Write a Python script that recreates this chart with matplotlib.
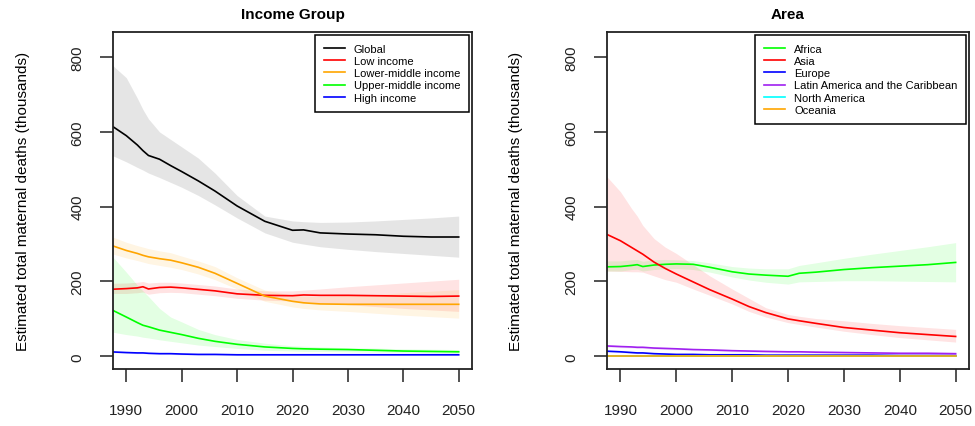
import matplotlib
matplotlib.use("Agg")
import matplotlib.pyplot as plt

plt.rcParams['font.family'] = ['Liberation Sans', 'DejaVu Sans']

# ---- Income group panel ----
years_inc = [1987, 1990, 1992, 1993, 1994, 1996, 1998, 2000, 2003, 2006,
             2010, 2015, 2020, 2022, 2025, 2030, 2035, 2040, 2045, 2050]

global_mid = [620, 590, 565, 550, 537, 527, 510, 494, 469, 442, 402, 361, 337, 338, 330, 327, 325, 321, 319, 319]
global_hi = [785, 745, 690, 660, 635, 600, 580, 560, 530, 490, 430, 375, 362, 360, 358, 359, 362, 366, 370, 375]
global_lo = [540, 520, 505, 498, 490, 478, 465, 452, 430, 405, 370, 330, 305, 300, 293, 286, 280, 275, 270, 265]

low_mid = [179, 181, 183, 186, 180, 184, 185, 183, 179, 175, 167, 163, 162, 164, 163, 163, 162, 161, 160, 161]
low_hi = [195, 196, 198, 200, 196, 198, 198, 196, 192, 188, 180, 175, 175, 177, 180, 186, 191, 196, 201, 206]
low_lo = [168, 168, 170, 172, 166, 170, 171, 170, 166, 162, 155, 150, 148, 146, 143, 138, 133, 128, 124, 120]

lmid_mid = [298, 283, 275, 270, 266, 261, 257, 250, 238, 222, 195, 161, 147, 143, 140, 139, 139, 139, 139, 139]
lmid_hi = [322, 305, 296, 292, 288, 282, 277, 268, 255, 240, 210, 177, 163, 161, 160, 163, 165, 170, 174, 178]
lmid_lo = [276, 263, 256, 252, 248, 243, 238, 232, 220, 205, 180, 147, 132, 128, 124, 120, 115, 110, 106, 102]

umid_mid = [127, 105, 90, 83, 79, 70, 64, 58, 48, 40, 32, 25, 21, 20, 19, 18, 16, 14, 13, 12]
umid_hi = [275, 225, 190, 175, 160, 128, 105, 92, 72, 58, 45, 35, 28, 27, 25, 23, 22, 20, 19, 18]
umid_lo = [66, 58, 54, 51, 49, 44, 40, 36, 30, 26, 21, 16, 14, 13, 13, 12, 11, 10, 9, 8]

high_mid = [12, 10, 9, 9, 8, 7, 7, 6, 5, 5, 4, 4, 4, 4, 4, 4, 4, 4, 4, 4]
high_hi = [14, 12, 11, 11, 10, 9, 9, 8, 7, 7, 6, 6, 6, 6, 6, 6, 6, 6, 6, 6]
high_lo = [10, 8, 7, 7, 6, 5, 5, 4, 3, 3, 2, 2, 2, 2, 2, 2, 2, 2, 2, 2]

income_names = ["Global", "Low income", "Lower-middle income", "Upper-middle income", "High income"]
income_colors = ["black", "#FF0000", "#FFA500", "#00FF00", "#0000FF"]

# ---- Area panel ----
years_area = [1987, 1990, 1992, 1993, 1994, 1996, 1998, 2000, 2003, 2006, 2010,
              2013, 2016, 2020, 2022, 2025, 2030, 2035, 2040, 2045, 2050]

africa_mid = [239, 240, 243, 245, 240, 244, 246, 247, 246, 238, 226, 220, 217, 214, 222, 225, 232, 237, 241, 245, 251]
africa_hi = [255, 255, 258, 259, 254, 258, 259, 258, 256, 250, 240, 236, 234, 234, 243, 250, 262, 273, 283, 293, 304]
africa_lo = [228, 228, 232, 233, 228, 232, 234, 235, 232, 225, 212, 204, 198, 193, 199, 200, 202, 202, 201, 200, 199]

asia_mid = [330, 309, 291, 282, 273, 252, 235, 220, 199, 178, 153, 133, 117, 100, 95, 88, 77, 70, 63, 58, 53]
asia_hi = [490, 440, 395, 375, 350, 315, 292, 275, 245, 215, 180, 155, 130, 112, 107, 101, 95, 88, 82, 77, 72]
asia_lo = [228, 227, 226, 226, 225, 215, 205, 198, 180, 163, 140, 120, 105, 90, 85, 78, 67, 58, 50, 44, 38]

europe_mid = [14, 12, 10, 9, 9, 7, 6, 5, 5, 4, 4, 4, 3, 3, 3, 3, 3, 3, 2, 2, 2]
europe_hi = [16, 14, 12, 11, 11, 9, 8, 7, 7, 6, 6, 5, 4, 4, 4, 4, 4, 4, 3, 3, 3]
europe_lo = [12, 10, 8, 7, 7, 5, 4, 4, 3, 3, 3, 3, 2, 2, 2, 2, 2, 2, 1, 1, 1]

latam_mid = [28, 26, 25, 24, 24, 22, 21, 20, 18, 17, 15, 14, 13, 12, 12, 11, 10, 9, 8, 8, 7]
latam_hi = [31, 29, 28, 27, 27, 25, 24, 23, 21, 20, 18, 17, 16, 15, 15, 14, 13, 12, 11, 11, 10]
latam_lo = [25, 23, 22, 21, 21, 19, 18, 17, 15, 14, 12, 11, 10, 9, 9, 8, 7, 6, 5, 5, 4]

namer_mid = [2, 2, 2, 2, 2, 2, 2, 2, 2, 2, 2, 2, 2, 2, 2, 2, 2, 2, 2, 2, 2]
oceania_mid = [1, 1, 1, 1, 1, 1, 1, 1, 1, 1, 1, 1, 1, 1, 1, 1, 1, 1, 1, 1, 1]

area_names = ["Africa", "Asia", "Europe", "Latin America and the Caribbean", "North America", "Oceania"]
area_colors = ["#00FF00", "#FF0000", "#0000FF", "#A020F0", "#00FFFF", "#FFA500"]

x_ticks = [1990, 2000, 2010, 2020, 2030, 2040, 2050]
y_ticks = [0, 200, 400, 600, 800]


def style_axis(ax, title):
    ax.set_xlim(1987.6, 2052.4)
    ax.set_ylim(-34, 867)
    ax.set_xticks(x_ticks)
    ax.set_yticks(y_ticks)
    ax.tick_params(axis='both', direction='out', length=9.4, width=1.1,
                   labelsize=11, colors='#222222')
    ax.tick_params(axis='x', pad=15)
    ax.tick_params(axis='y', pad=11, labelrotation=90)
    for lab in ax.get_yticklabels():
        lab.set_verticalalignment('center')
    for s in ax.spines.values():
        s.set_linewidth(1.3)
        s.set_color('#222222')
    ax.set_ylabel("Estimated total maternal deaths (thousands)", fontsize=11)
    ax.yaxis.set_label_coords(-0.232, 0.5)
    ax.text(0.5, 1.053, title, transform=ax.transAxes, ha='center', va='center',
            fontsize=11, fontweight='bold')


fig = plt.figure(figsize=(9.75, 4.27), dpi=100)
ax1 = fig.add_axes([0.1159, 0.1335, 0.3682, 0.789])
ax2 = fig.add_axes([0.6226, 0.1335, 0.3713, 0.789])

# income group: bands first, then lines
ax1.fill_between(years_inc, global_lo, global_hi, color='grey', alpha=0.2, lw=0)
inc_bands = [(low_lo, low_hi), (lmid_lo, lmid_hi), (umid_lo, umid_hi), (high_lo, high_hi)]
for (lo, hi), c in zip(inc_bands, income_colors[1:]):
    ax1.fill_between(years_inc, lo, hi, color=c, alpha=0.11, lw=0)
for vals, name, c in zip([global_mid, low_mid, lmid_mid, umid_mid, high_mid], income_names, income_colors):
    ax1.plot(years_inc, vals, color=c, lw=1.2, label=name)
style_axis(ax1, "Income Group")
leg1 = ax1.legend(loc='upper right', fontsize=8, frameon=True, fancybox=False,
                  edgecolor='black', framealpha=1, borderaxespad=0.25,
                  handlelength=1.9, handletextpad=0.8, labelspacing=0.2, borderpad=0.8)
leg1.get_frame().set_linewidth(1.1)

# area
area_bands = [(africa_lo, africa_hi), (asia_lo, asia_hi), (europe_lo, europe_hi), (latam_lo, latam_hi)]
for (lo, hi), c in zip(area_bands, area_colors[:4]):
    ax2.fill_between(years_area, lo, hi, color=c, alpha=0.11, lw=0)
for vals, name, c in zip([africa_mid, asia_mid, europe_mid, latam_mid, namer_mid, oceania_mid],
                         area_names, area_colors):
    ax2.plot(years_area, vals, color=c, lw=1.2, label=name)
style_axis(ax2, "Area")
leg2 = ax2.legend(loc='upper right', fontsize=8, frameon=True, fancybox=False,
                  edgecolor='black', framealpha=1, borderaxespad=0.25,
                  handlelength=1.9, handletextpad=0.8, labelspacing=0.2, borderpad=0.8)
leg2.get_frame().set_linewidth(1.1)

fig.savefig("out.png", dpi=100)
